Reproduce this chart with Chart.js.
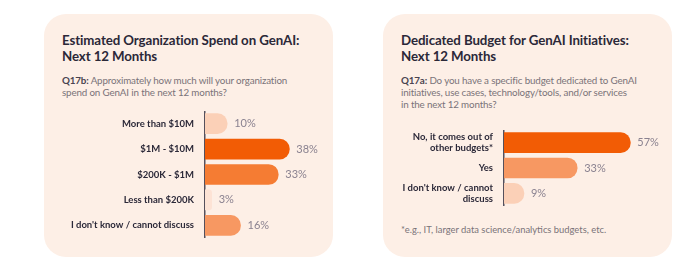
<!DOCTYPE html>
<html>
<head>
<meta charset="utf-8">
<script src="https://cdn.jsdelivr.net/npm/chart.js@4"></script>
<style>
  body { margin: 0; width: 700px; height: 271px; background: #fff; font-family: Lato, "Open Sans", sans-serif; position: relative; overflow: hidden; }
  .card { position: absolute; top: 14px; width: 289px; height: 243px; background: #fdefe6; border-radius: 22px; }
  .title { position: absolute; left: 18px; top: 19px; font-size: 13.3px; line-height: 15.5px; font-weight: 700; color: #2b2838; letter-spacing: -0.1px; }
  .sub { position: absolute; left: 18px; top: 60px; font-size: 9.8px; line-height: 12px; color: #7a7379; letter-spacing: -0.15px; }
  .sub b { color: #4a4450; }
  .note { position: absolute; left: 18px; top: 210px; font-size: 9.4px; color: #7a7379; }
  canvas { position: absolute; left: 0; }
</style>
</head>
<body>
<div class="card" style="left:44px">
  <div class="title">Estimated Organization Spend on GenAI:<br>Next 12 Months</div>
  <div class="sub"><b>Q17b:</b> Approximately how much will your organization<br>spend on GenAI in the next 12 months?</div>
  <canvas id="spendChart" width="289" height="127" style="top:97px"></canvas>
</div>
<div class="card" style="left:383px">
  <div class="title">Dedicated Budget for GenAI Initiatives:<br>Next 12 Months</div>
  <div class="sub"><b>Q17a:</b> Do you have a specific budget dedicated to GenAI<br>initiatives, use cases, technology/tools, and/or services<br>in the next 12 months?</div>
  <canvas id="budgetChart" width="289" height="76" style="top:116px"></canvas>
  <div class="note">*e.g., IT, larger data science/analytics budgets, etc.</div>
</div>
<script>
// Q17b spend
const spendLabels = ['More than $10M', '$1M - $10M', '$200K - $1M', 'Less than $200K', "I don't know / cannot discuss"];
const spendValues = [10, 38, 33, 3, 16];
const spendColors = ['#fbd0b7', '#f25c05', '#f57c33', '#fde3d5', '#f79862'];

// Q17a dedicated budget
const budgetLabels = [['No, it comes out of', 'other budgets*'], ['Yes'], ["I don't know / cannot", 'discuss']];
const budgetValues = [57, 33, 9];
const budgetColors = ['#f25c05', '#f79862', '#fbd0b7'];

const valueLabels = {
  id: 'valueLabels',
  afterDatasetsDraw(chart) {
    const ctx = chart.ctx;
    ctx.save();
    ctx.font = '11px Lato, sans-serif';
    ctx.fillStyle = '#8a8290';
    ctx.textBaseline = 'middle';
    chart.getDatasetMeta(0).data.forEach((bar, i) => {
      ctx.fillText(chart.data.datasets[0].data[i] + '%', bar.x + 7, bar.y);
    });
    ctx.restore();
  }
};

function makeChart(id, labels, values, colors, axisWidth, xMax, rightPad) {
  return new Chart(document.getElementById(id), {
    type: 'bar',
    data: {
      labels: labels,
      datasets: [{
        data: values,
        backgroundColor: colors,
        barThickness: 20,
        borderSkipped: false,
        borderRadius: { topLeft: 0, bottomLeft: 0, topRight: 10, bottomRight: 10 },
      }],
    },
    options: {
      indexAxis: 'y',
      responsive: false,
      animation: false,
      layout: { padding: { left: 0, top: 0, bottom: 0, right: rightPad } },
      plugins: { legend: { display: false }, tooltip: { enabled: false } },
      scales: {
        x: { display: false, min: 0, max: xMax },
        y: {
          afterFit: (scale) => {
            scale.width = axisWidth;
            scale.paddingTop = 0;
            scale.paddingBottom = 0;
          },
          grid: { display: false, drawTicks: false },
          border: { display: true, color: '#55505c', width: 1.5 },
          ticks: {
            padding: 11,
            color: '#2b2838',
            font: { family: 'Lato, sans-serif', size: 9.5, weight: 'bold', lineHeight: 1.15 },
          },
        },
      },
    },
    plugins: [valueLabels],
  });
}

makeChart('spendChart', spendLabels, spendValues, spendColors, 161, 50, 17);
makeChart('budgetChart', budgetLabels, budgetValues, budgetColors, 121, 60, 35);
</script>
</body>
</html>
